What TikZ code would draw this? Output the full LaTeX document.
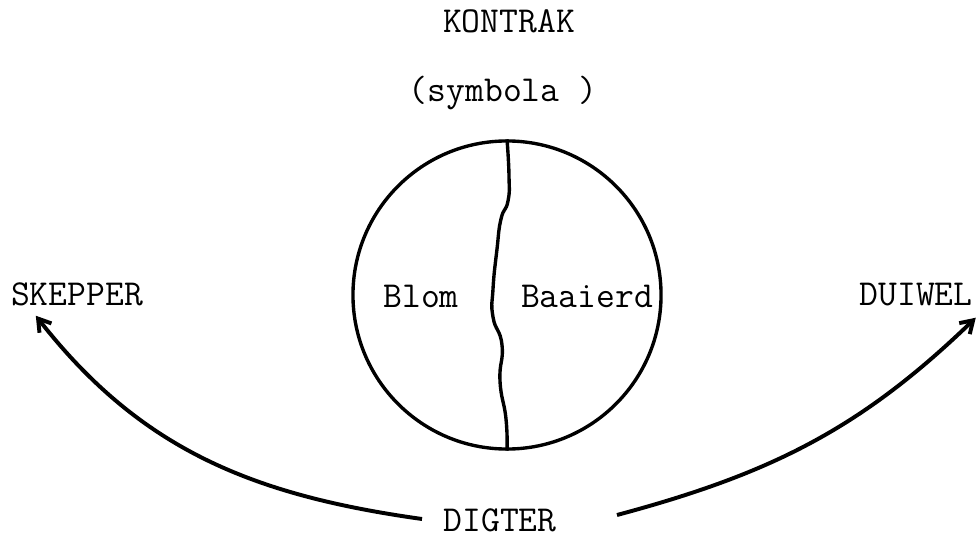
\documentclass[tikz,border=0pt]{standalone}
\usepackage{tikz}
\usetikzlibrary{arrows.meta,calc}

\begin{document}
\begin{tikzpicture}[x=0.025cm,y=0.025cm,
    lbl/.style={font=\ttfamily\fontsize{26}{30}\selectfont,inner sep=0pt,anchor=base},
    arr/.style={line width=2.8pt,-{Straight Barb[length=3mm,width=3.8mm]}}]
    \useasboundingbox (0,0) rectangle (979,541);
    % titel bo
    \node[lbl] (kontrak) at (509,508) {KONTRAK};
    \node[lbl] (symbola) at (503,439) {(symbola )};
    % die wereld
    \node[circle,draw,line width=2.4pt,minimum size=7.7cm,inner sep=0pt] (globe) at (507,246) {};
    \draw[line width=2.4pt] plot[smooth,tension=0.9] coordinates
      {(globe.north) (509,365) (508,340) (501,322) (497,292) (493,252) (493,224) (502,196) (500,160) (506,122) (globe.south)};
    \node[lbl] (blom) at (421,234) {Blom};
    \node[lbl] (baaierd) at (587,234) {Baaierd};
    % kante
    \node[lbl] (skepper) at (77,236) {SKEPPER};
    \node[lbl] (duiwel) at (916,236) {DUIWEL};
    \node[lbl] (digter) at (500,10) {DIGTER};
    \coordinate (fromL) at (422,22);
    \coordinate (fromR) at (617,26);
    \draw[arr] (fromL) to[out=172,in=-52] ($(skepper.south west)+(25,-10)$);
    \draw[arr] (fromR) to[out=15,in=-136] ($(duiwel.south east)+(3,-12)$);
\end{tikzpicture}
\end{document}
